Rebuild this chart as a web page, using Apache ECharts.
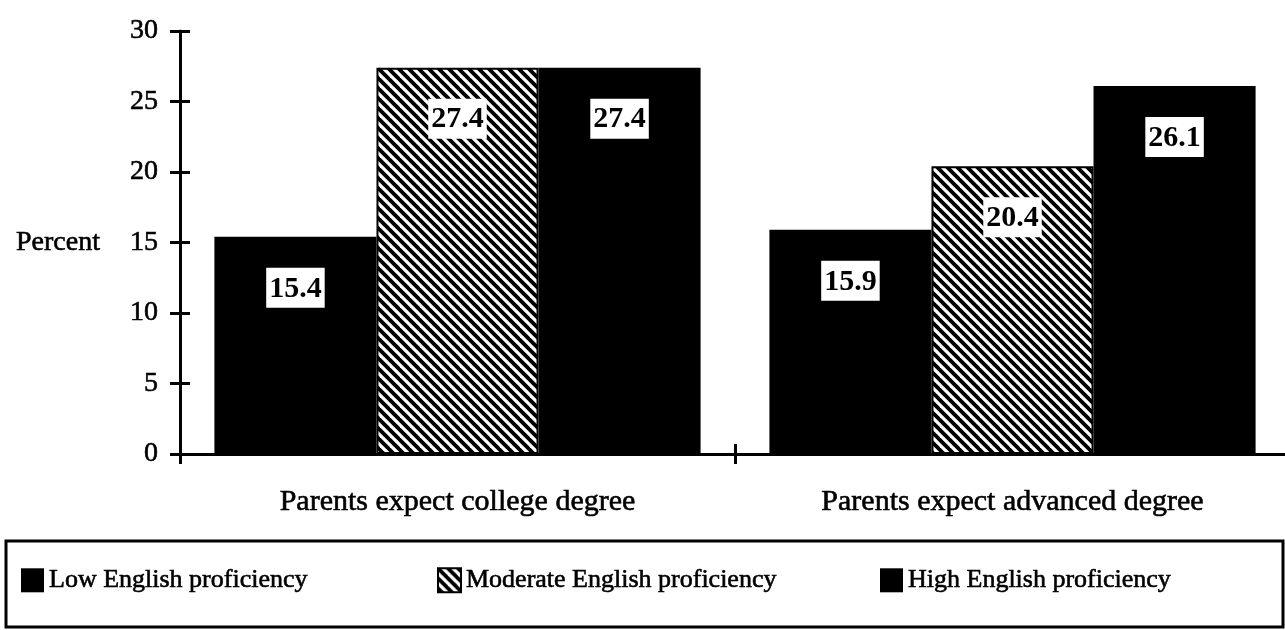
<!DOCTYPE html>
<html>
<head>
<meta charset="utf-8">
<script src="https://cdn.jsdelivr.net/npm/echarts@6/dist/echarts.min.js"></script>
<style>
  html, body { margin: 0; padding: 0; background: #fff; }
  #chart { width: 1285px; height: 630px; }
</style>
</head>
<body>
<div id="chart"></div>
<script>
// Share of students, by parents' educational expectation and English proficiency
const categories = ['Parents expect college degree', 'Parents expect advanced degree'];
const seriesNames = ['Low English proficiency', 'Moderate English proficiency', 'High English proficiency'];
const lowValues = [15.4, 15.9];
const moderateValues = [27.4, 20.4];
const highValues = [27.4, 26.1];
const yMin = 0;
const yMax = 30;
const yStep = 5;

const SERIF = '"Liberation Serif", "DejaVu Serif", serif';
// slightly heavier strokes for the printed-type look
const ink = { color: '#000', fontFamily: SERIF, textBorderColor: '#000', textBorderWidth: 0.6 };

// Diagonal hatch used for the moderate group
function hatchPattern() {
  const size = 10;
  const c = document.createElement('canvas');
  c.width = size; c.height = size;
  const g = c.getContext('2d');
  g.fillStyle = '#fff';
  g.fillRect(0, 0, size, size);
  g.strokeStyle = '#000';
  g.lineWidth = 3.8;
  for (let k = -1; k <= 1; k++) {
    g.beginPath();
    g.moveTo(k * size - 2, -2);
    g.lineTo(k * size + size + 2, size + 2);
    g.stroke();
  }
  return { image: c, repeat: 'repeat' };
}

const valueLabel = {
  show: true,
  position: 'insideTop',
  distance: 31,
  formatter: p => p.value.toFixed(1),
  color: '#000',
  backgroundColor: '#fff',
  fontFamily: SERIF,
  fontWeight: 'bold',
  fontSize: 30,
  lineHeight: 32,
  padding: [5, 3, 3, 3]
};

function barSeries(name, values, color, border) {
  return {
    name: name,
    type: 'bar',
    data: values,
    barGap: '0%',
    barCategoryGap: '12.4%',
    itemStyle: { color: color, borderColor: '#000', borderWidth: border },
    label: valueLabel,
    emphasis: { disabled: true },
    animation: false
  };
}

const legendText = Object.assign({ fontSize: 26 }, ink);
function legendFor(name, left) {
  return {
    data: [name],
    left: left,
    top: 562,
    icon: 'rect',
    itemWidth: 23,
    itemHeight: 24,
    itemGap: 8,
    textStyle: legendText,
    selectedMode: false
  };
}

const chart = echarts.init(document.getElementById('chart'), null, { renderer: 'canvas' });
chart.setOption({
  backgroundColor: '#fff',
  animation: false,
  // the plot runs a few pixels past the right edge so the end tick is clipped
  grid: { left: 180, width: 1110, top: 31, bottom: 176, containLabel: false, outerBoundsMode: 'none' },
  xAxis: [
    {
      type: 'category',
      data: categories,
      axisLine: { lineStyle: { color: '#000', width: 3 } },
      axisTick: { show: true, length: 10, lineStyle: { color: '#000', width: 3 } },
      axisLabel: Object.assign({ fontSize: 30, margin: 33 }, ink)
    },
    {
      type: 'category',
      data: categories,
      position: 'bottom',
      axisLine: { show: false },
      axisTick: { show: true, inside: true, length: 10, lineStyle: { color: '#000', width: 3 } },
      axisLabel: { show: false }
    }
  ],
  yAxis: [
    {
      type: 'value',
      min: yMin, max: yMax, interval: yStep,
      name: 'Percent',
      nameLocation: 'middle',
      nameRotate: 0,
      nameGap: 80,
      nameTextStyle: Object.assign({ fontSize: 28 }, ink),
      axisLine: { show: true, lineStyle: { color: '#000', width: 3 } },
      axisTick: { show: true, length: 10, lineStyle: { color: '#000', width: 3 } },
      axisLabel: Object.assign({ fontSize: 28, margin: 22 }, ink),
      splitLine: { show: false }
    },
    {
      type: 'value',
      min: yMin, max: yMax, interval: yStep,
      position: 'left',
      axisLine: { show: false },
      axisTick: { show: true, inside: true, length: 10, lineStyle: { color: '#000', width: 3 } },
      axisLabel: { show: false },
      splitLine: { show: false }
    }
  ],
  legend: [
    legendFor(seriesNames[0], 16),
    legendFor(seriesNames[1], 432),
    legendFor(seriesNames[2], 875)
  ],
  graphic: [
    {
      type: 'rect',
      shape: { x: 6, y: 541, width: 1277, height: 86 },
      style: { fill: 'none', stroke: '#000', lineWidth: 3 },
      silent: true
    }
  ],
  series: [
    barSeries(seriesNames[0], lowValues, '#000', 0),
    barSeries(seriesNames[1], moderateValues, hatchPattern(), 2),
    barSeries(seriesNames[2], highValues, '#000', 0)
  ]
});
</script>
</body>
</html>
